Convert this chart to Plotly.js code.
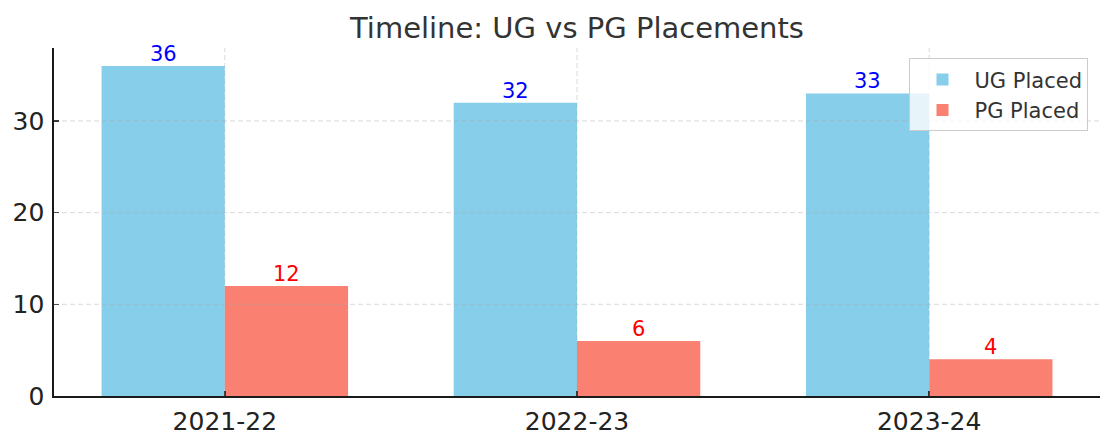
<!DOCTYPE html>
<html>
<head>
<meta charset="utf-8">
<script src="https://cdn.plot.ly/plotly-3.0.1.min.js"></script>
<style>
  html, body { margin: 0; padding: 0; background: #fff; }
  #chart { width: 1115px; height: 442px; }
</style>
</head>
<body>
<div id="chart"></div>
<script>
// data
var years = ['2021-22', '2022-23', '2023-24'];
var ugPlaced = [36, 32, 33];
var pgPlaced = [12, 6, 4];
var yTicks = [0, 10, 20, 30];

var font = 'DejaVu Sans, sans-serif';

var traces = [
  {
    type: 'bar',
    name: 'UG Placed',
    x: years,
    y: ugPlaced,
    marker: { color: '#87CEEB' },
    hoverinfo: 'x+y'
  },
  {
    type: 'bar',
    name: 'PG Placed',
    x: years,
    y: pgPlaced,
    marker: { color: '#FA8072' },
    hoverinfo: 'x+y'
  }
];

// value labels sit just above each bar, half a bar width off the category centre
var barPx = 0.35 * (1115 - 54 - 15) / 2.97;
var annotations = [];
years.forEach(function (c, i) {
  annotations.push({ x: c, y: ugPlaced[i], xref: 'x', yref: 'y', text: String(ugPlaced[i]),
    showarrow: false, xanchor: 'center', yanchor: 'bottom', xshift: -barPx / 2, yshift: -2,
    font: { family: font, size: 21, color: '#0000ff' } });
  annotations.push({ x: c, y: pgPlaced[i], xref: 'x', yref: 'y', text: String(pgPlaced[i]),
    showarrow: false, xanchor: 'center', yanchor: 'bottom', xshift: barPx / 2, yshift: -2,
    font: { family: font, size: 21, color: '#ff0000' } });
});

// matplotlib draws its grid over the bars, so grid lines are shapes on top
var gridStyle = { color: 'rgba(170,170,170,0.45)', width: 1, dash: '5px,3px' };
var shapes = [];
yTicks.slice(1).forEach(function (v) {
  shapes.push({ type: 'line', layer: 'above', xref: 'paper', yref: 'y',
    x0: 0, x1: 1, y0: v, y1: v, line: gridStyle });
});
years.forEach(function (c) {
  shapes.push({ type: 'line', layer: 'above', xref: 'x', yref: 'paper',
    x0: c, x1: c, y0: 0, y1: 1, line: gridStyle });
});

var layout = {
  width: 1115,
  height: 442,
  margin: { l: 54, r: 15, t: 48, b: 46 },
  paper_bgcolor: '#fff',
  plot_bgcolor: '#fff',
  font: { family: font, color: '#222' },
  title: {
    text: 'Timeline: UG vs PG Placements',
    font: { family: font, size: 29, color: '#333' },
    x: 0.5175, xanchor: 'center',
    y: 0.937, yanchor: 'middle'
  },
  barmode: 'group',
  bargap: 0.3,
  bargroupgap: 0,
  showlegend: true,
  legend: {
    x: 0.989, xanchor: 'right',
    y: 0.97, yanchor: 'top',
    bgcolor: 'rgba(255,255,255,0.8)',
    bordercolor: '#cccccc',
    borderwidth: 1,
    font: { family: font, size: 21, color: '#333' },
    itemwidth: 54,
    tracegroupgap: 2
  },
  xaxis: {
    type: 'category',
    range: [-0.485, 2.485],
    showgrid: false,
    showline: true,
    linecolor: '#1a1a1a',
    linewidth: 1.6,
    ticks: 'inside',
    ticklen: 5,
    tickwidth: 1.4,
    tickcolor: '#1a1a1a',
    tickfont: { family: font, size: 25, color: '#222' },
    ticklabelstandoff: 2,
    zeroline: false,
    fixedrange: true
  },
  yaxis: {
    range: [0, 37.96],
    tickvals: yTicks,
    ticktext: yTicks.map(String),
    showgrid: false,
    showline: true,
    linecolor: '#1a1a1a',
    linewidth: 1.6,
    ticks: 'inside',
    ticklen: 5,
    tickwidth: 1.4,
    tickcolor: '#1a1a1a',
    tickfont: { family: font, size: 25, color: '#222' },
    ticklabelstandoff: 3,
    zeroline: false,
    fixedrange: true
  },
  annotations: annotations,
  shapes: shapes
};

Plotly.newPlot('chart', traces, layout, { displayModeBar: false, staticPlot: true });
</script>
</body>
</html>
